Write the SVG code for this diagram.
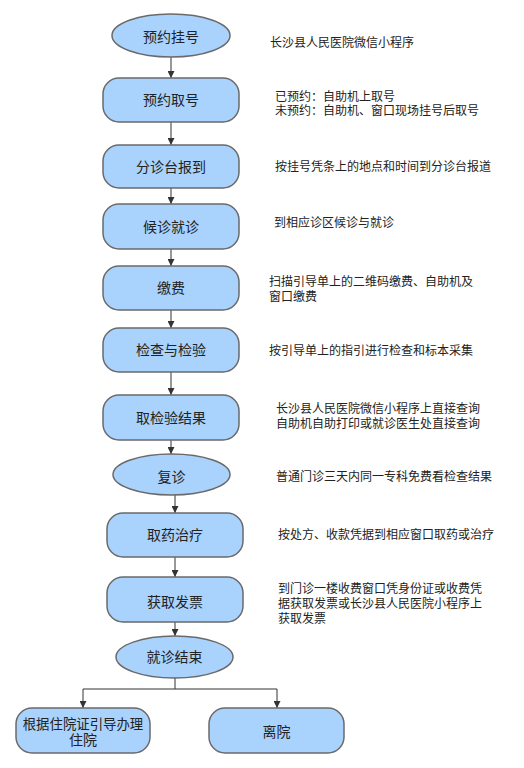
<svg xmlns="http://www.w3.org/2000/svg" width="524" height="768" viewBox="0 0 524 768">
<defs>
<style>
.n{fill:#a9d2fc;stroke:#6a6a6a;stroke-width:1.5}
.t{font-family:"Liberation Sans","Noto Sans CJK SC",sans-serif;font-size:14px;fill:#222;text-anchor:middle}
.d{font-family:"Liberation Sans","Noto Sans CJK SC",sans-serif;font-size:12px;fill:#222}
.c{fill:none;stroke:#333;stroke-width:1}
</style>
<marker id="ah" viewBox="0 0 8 8" refX="8" refY="4" markerWidth="7" markerHeight="7" markerUnits="userSpaceOnUse" orient="auto">
<path d="M0,0 L8,4 L0,8 Z" fill="#333"/>
</marker>
</defs>
<rect width="524" height="768" fill="#fff"/>
<g id="connectors">
<path class="c" d="M171,57 V78" marker-end="url(#ah)"/>
<path class="c" d="M171,122 V145" marker-end="url(#ah)"/>
<path class="c" d="M171,188 V204" marker-end="url(#ah)"/>
<path class="c" d="M171,249 V266" marker-end="url(#ah)"/>
<path class="c" d="M171,310 V328" marker-end="url(#ah)"/>
<path class="c" d="M171,372 V395" marker-end="url(#ah)"/>
<path class="c" d="M171,440 V454" marker-end="url(#ah)"/>
<path class="c" d="M175,495 V513" marker-end="url(#ah)"/>
<path class="c" d="M175,557 V577" marker-end="url(#ah)"/>
<path class="c" d="M175,622 V636" marker-end="url(#ah)"/>
<path class="c" d="M175,678 V689 H83 V708" marker-end="url(#ah)"/>
<path class="c" d="M175,689 H277 V708" marker-end="url(#ah)"/>
</g>
<g id="n1"><ellipse class="n" cx="171" cy="35.5" rx="59" ry="21.5"/><text class="t" x="171" y="42">预约挂号</text></g>
<g id="n2"><rect class="n" x="103" y="78" width="136" height="44" rx="16"/><text class="t" x="171" y="105">预约取号</text></g>
<g id="n3"><rect class="n" x="103" y="145" width="136" height="43" rx="16"/><text class="t" x="171" y="172">分诊台报到</text></g>
<g id="n4"><rect class="n" x="103" y="204" width="136" height="45" rx="16"/><text class="t" x="171" y="232">候诊就诊</text></g>
<g id="n5"><rect class="n" x="103" y="266" width="136" height="44" rx="16"/><text class="t" x="171" y="293">缴费</text></g>
<g id="n6"><rect class="n" x="103" y="328" width="136" height="44" rx="16"/><text class="t" x="171" y="355">检查与检验</text></g>
<g id="n7"><rect class="n" x="103" y="395" width="136" height="45" rx="16"/><text class="t" x="171" y="423">取检验结果</text></g>
<g id="n8"><ellipse class="n" cx="171.5" cy="474.5" rx="58.5" ry="20.5"/><text class="t" x="171.5" y="482">复诊</text></g>
<g id="n9"><rect class="n" x="107" y="513" width="136" height="44" rx="16"/><text class="t" x="175" y="540">取药治疗</text></g>
<g id="n10"><rect class="n" x="107" y="577" width="136" height="45" rx="16"/><text class="t" x="175" y="607">获取发票</text></g>
<g id="n11"><ellipse class="n" cx="174.5" cy="657" rx="58.5" ry="21"/><text class="t" x="174.5" y="662">就诊结束</text></g>
<g id="n12"><rect class="n" x="16" y="708" width="134" height="45" rx="16"/><text class="t" x="83" y="729" style="font-size:13.4px">根据住院证引导办理</text><text class="t" x="83" y="745">住院</text></g>
<g id="n13"><rect class="n" x="209" y="708" width="135" height="45" rx="16"/><text class="t" x="276.5" y="737">离院</text></g>
<g id="notes">
<text class="d" x="270" y="47">长沙县人民医院微信小程序</text>
<text class="d" x="275" y="101">已预约：自助机上取号</text>
<text class="d" x="275" y="115">未预约：自助机、窗口现场挂号后取号</text>
<text class="d" x="275" y="171">按挂号凭条上的地点和时间到分诊台报道</text>
<text class="d" x="274" y="227">到相应诊区候诊与就诊</text>
<text class="d" x="269" y="286">扫描引导单上的二维码缴费、自助机及</text>
<text class="d" x="269" y="301">窗口缴费</text>
<text class="d" x="269" y="355">按引导单上的指引进行检查和标本采集</text>
<text class="d" x="276" y="413">长沙县人民医院微信小程序上直接查询</text>
<text class="d" x="276" y="428">自助机自助打印或就诊医生处直接查询</text>
<text class="d" x="276" y="481">普通门诊三天内同一专科免费看检查结果</text>
<text class="d" x="278" y="539">按处方、收款凭据到相应窗口取药或治疗</text>
<text class="d" x="278" y="593">到门诊一楼收费窗口凭身份证或收费凭</text>
<text class="d" x="278" y="608">据获取发票或长沙县人民医院小程序上</text>
<text class="d" x="278" y="623">获取发票</text>
</g>
</svg>
